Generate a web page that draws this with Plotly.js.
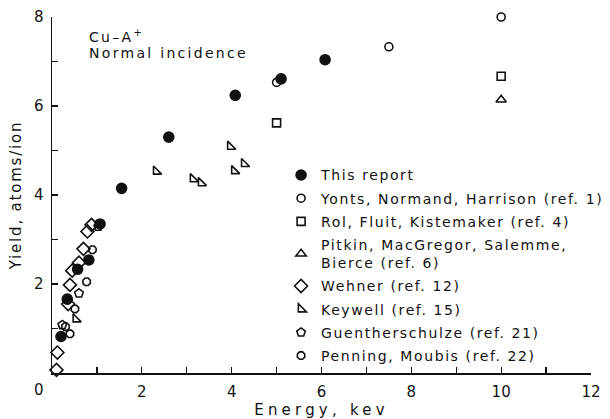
<!DOCTYPE html>
<html>
<head>
<meta charset="utf-8">
<script src="https://cdn.plot.ly/plotly-3.0.1.min.js"></script>
<style>
  html, body { margin: 0; padding: 0; background: #fff; }
  #chart { width: 610px; height: 419px; }
  /* wide, evenly spaced lettering (unscoped so Plotly's text measuring sees it too) */
  .legendtext { letter-spacing: 1.6px; }
  .annotation-text { letter-spacing: 2.3px; }
  .xtitle { letter-spacing: 4.2px; }
  .ytitle { letter-spacing: 1.8px; }
</style>
</head>
<body>
<div id="chart"></div>
<script>
// Sputtering yield of copper under argon ions, normal incidence

// This report
const thisReportE = [0.2, 0.34, 0.57, 0.82, 1.07, 1.55, 2.6, 4.08, 5.1, 6.08];
const thisReportY = [0.82, 1.66, 2.33, 2.54, 3.35, 4.15, 5.3, 6.24, 6.61, 7.04];

// Yonts, Normand, Harrison (ref. 1)
const yontsE = [5.0, 7.5, 10.0];
const yontsY = [6.53, 7.33, 8.0];

// Rol, Fluit, Kistemaker (ref. 4)
const rolE = [5.0, 10.0];
const rolY = [5.62, 6.67];

// Pitkin, MacGregor, Salemme, Bierce (ref. 6)
const pitkinE = [10.0];
const pitkinY = [6.14];

// Wehner (ref. 12)
const wehnerE = [0.1, 0.12, 0.36, 0.4, 0.45, 0.6, 0.7, 0.79, 0.88];
const wehnerY = [0.07, 0.46, 1.55, 1.98, 2.3, 2.48, 2.79, 3.18, 3.33];

// Keywell (ref. 15)
const keywellE = [0.53, 2.32, 3.14, 3.32, 3.97, 4.06, 4.28];
const keywellY = [1.21, 4.53, 4.36, 4.27, 5.09, 4.54, 4.70];

// Guentherschulze (ref. 21)
const guentherE = [0.23, 0.6, 1.03];
const guentherY = [1.08, 1.79, 3.29];

// Penning, Moubis (ref. 22)
const penningE = [0.3, 0.4, 0.51, 0.77, 0.9];
const penningY = [1.04, 0.88, 1.44, 2.05, 2.77];

const xTicks = [0, 1, 2, 3, 4, 5, 6, 7, 8, 9, 10, 11, 12];
const xTickText = ['', '', '2', '', '4', '', '6', '', '8', '', '10', '', '12'];
const yTicks = [0, 1, 2, 3, 4, 5, 6, 7, 8];
const yTickText = ['', '', '2', '', '4', '', '6', '', '8'];

const FONT = 'DejaVu Sans, Liberation Sans, sans-serif';
const INK = '#111';

function series(name, xs, ys, symbol, size, group) {
  return {
    type: 'scatter', mode: 'markers', name: name, x: xs, y: ys,
    legendgroup: group, cliponaxis: false,
    marker: {
      symbol: symbol, size: size, color: INK,
      line: { color: INK, width: 1.6 }
    }
  };
}

const traces = [
  series('This report', thisReportE, thisReportY, 'circle', 10, 'a'),
  series('Yonts, Normand, Harrison (ref. 1)', yontsE, yontsY, 'circle-open', 8, 'b'),
  series('Rol, Fluit, Kistemaker (ref. 4)', rolE, rolY, 'square-open', 8, 'c'),
  series('Pitkin, MacGregor, Salemme,<br>Bierce (ref. 6)', pitkinE, pitkinY, 'triangle-up-open', 9, 'd'),
  series('Wehner (ref. 12)', wehnerE, wehnerY, 'diamond-open', 10, 'e'),
  series('Keywell (ref. 15)', keywellE, keywellY, 'triangle-sw-open', 9, 'f'),
  series('Guentherschulze (ref. 21)', guentherE, guentherY, 'pentagon-open', 9, 'g'),
  series('Penning, Moubis (ref. 22)', penningE, penningY, 'octagon-open', 8, 'h')
];

const layout = {
  width: 610, height: 419,
  margin: { l: 52, r: 19, t: 17, b: 46, autoexpand: false },
  paper_bgcolor: '#fff', plot_bgcolor: '#fff',
  font: { family: FONT, size: 14, color: INK },
  showlegend: true,
  legend: {
    x: 0.425, y: 0.6, xanchor: 'left', yanchor: 'top',
    bgcolor: 'rgba(0,0,0,0)', borderwidth: 0,
    font: { family: FONT, size: 14, color: INK },
    traceorder: 'grouped', tracegroupgap: 2,
    itemwidth: 30
  },
  xaxis: {
    range: [0, 12], tickmode: 'array', tickvals: xTicks, ticktext: xTickText,
    ticks: 'inside', ticklen: 6, tickwidth: 1.3, tickcolor: INK,
    showline: true, linecolor: INK, linewidth: 1.5, showgrid: false, zeroline: false,
    tickfont: { family: FONT, size: 15, color: INK },
    ticklabelstandoff: 4,
    title: { text: 'Energy, kev', font: { family: FONT, size: 15, color: INK }, standoff: 6 }
  },
  yaxis: {
    range: [0, 8], tickmode: 'array', tickvals: yTicks, ticktext: yTickText,
    ticks: 'inside', ticklen: 6, tickwidth: 1.3, tickcolor: INK,
    showline: true, linecolor: INK, linewidth: 1.5, showgrid: false, zeroline: false,
    tickfont: { family: FONT, size: 15, color: INK },
    ticklabelstandoff: 4,
    title: { text: 'Yield, atoms/ion', font: { family: FONT, size: 15, color: INK }, standoff: 8 }
  },
  annotations: [
    // shared origin label, set a little left of the corner
    { x: 0, y: 0, xref: 'x', yref: 'y', text: '0', showarrow: false,
      xshift: -12, yshift: -17, font: { family: FONT, size: 15, color: INK } },
    { x: 0.065, y: 0.947, xref: 'paper', yref: 'paper', xanchor: 'left', yanchor: 'middle',
      text: 'Cu–A<sup>+</sup>', showarrow: false, font: { family: FONT, size: 14, color: INK } },
    { x: 0.065, y: 0.899, xref: 'paper', yref: 'paper', xanchor: 'left', yanchor: 'middle',
      text: 'Normal incidence', showarrow: false, font: { family: FONT, size: 14, color: INK } }
  ]
};

Plotly.newPlot('chart', traces, layout, { displayModeBar: false, staticPlot: true });
</script>
</body>
</html>
